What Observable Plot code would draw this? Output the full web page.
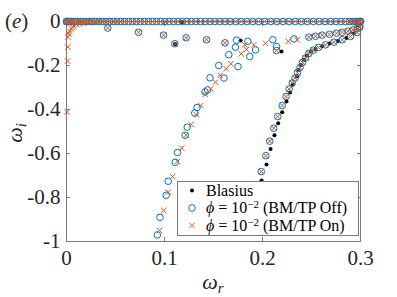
<!DOCTYPE html>
<html><head><meta charset="utf-8">
<script src="https://cdn.jsdelivr.net/npm/d3@7"></script>
<script src="https://cdn.jsdelivr.net/npm/@observablehq/plot@0.6"></script>
<style>html,body{margin:0;padding:0;background:#fff;}</style>
</head><body><div id="chart"></div>
<script>
// ---- data (omega_r, omega_i) ----
const xTicks = [0, 0.1, 0.2, 0.3];
const yTicks = [-1, -0.8, -0.6, -0.4, -0.2, 0];

// continuous spectrum on omega_i = 0 (both particle-laden cases)
const continuousWr = [0,0.0003,0.0008,0.0015,0.0026,0.0038,0.0053,0.0071,0.0092,0.0115,0.0141,0.0168,0.0198,0.0230,0.0262,0.0296,0.0331,0.0366,0.0403,0.0440,0.0478,0.0515,0.0554,0.0593,0.0633,0.0672,0.0712,0.0753,0.0794,0.0835,0.0877,0.0918,0.0961,0.1004,0.1048,0.1092,0.1137,0.1182,0.1228,0.1273,0.1320,0.1367,0.1415,0.1464,0.1514,0.1565,0.1617,0.1671,0.1727,0.1784,0.1842,0.1901,0.1961,0.2022,0.2085,0.2147,0.2209,0.2271,0.2334,0.2396,0.2457,0.2518,0.2579,0.2638,0.2695,0.2750,0.2801,0.2847,0.2887,0.2920,0.2948,0.2969,0.2985,0.2994,0.2999,0.3];

// branches shared by both particle-laden cases
const sharedLowerBranch = [[0.2990,-0.027],[0.2966,-0.050],[0.2898,-0.068],[0.2813,-0.083],[0.2728,-0.094],[0.2643,-0.106],[0.2571,-0.118],[0.2520,-0.130],[0.2474,-0.145],[0.2439,-0.166],[0.2408,-0.186],[0.2383,-0.209],[0.2357,-0.232],[0.2332,-0.257],[0.2303,-0.280],[0.2272,-0.307],[0.2240,-0.341],[0.2201,-0.382],[0.2156,-0.432],[0.2115,-0.485],[0.2074,-0.544],[0.2034,-0.610],[0.1987,-0.682],[0.1939,-0.759],[0.1888,-0.841]];
const sharedUpperBranch = [[0.2473,-0.071],[0.2541,-0.067],[0.2609,-0.062],[0.2684,-0.058],[0.2755,-0.053],[0.2813,-0.049],[0.2871,-0.044],[0.2925,-0.038],[0.2966,-0.032],[0.2993,-0.023]];
const sharedModes = [[0.0421,-0.030],[0.0735,-0.049],[0.0990,-0.062],[0.1105,-0.101],[0.1221,-0.074],[0.1429,-0.083],[0.1617,-0.097],[0.2143,-0.132]];

// BM/TP Off only
const offModes = [[0.1735,-0.085],[0.1850,-0.090],[0.1724,-0.117],[0.1656,-0.151],[0.1870,-0.159],[0.1750,-0.205],[0.1929,-0.129],[0.1607,-0.257],[0.1554,-0.200],[0.1464,-0.256],[0.2105,-0.083],[0.2143,-0.114],[0.2321,-0.079],[0.1413,-0.320],[0.1439,-0.311],[0.1332,-0.391],[0.1309,-0.416],[0.1232,-0.480],[0.1211,-0.517],[0.1133,-0.595],[0.1109,-0.640],[0.1038,-0.726],[0.1017,-0.790],[0.0954,-0.890],[0.0927,-0.970]];

// BM/TP On only
const onModes = [[0.1819,-0.106],[0.1911,-0.106],[0.1837,-0.127],[0.1783,-0.147],[0.1677,-0.192],[0.1630,-0.215],[0.1568,-0.245],[0.1520,-0.276],[0.1472,-0.306],[0.1415,-0.332],[0.1370,-0.382],[0.1323,-0.423],[0.1272,-0.468],[0.1221,-0.517],[0.1177,-0.576],[0.1133,-0.636],[0.1082,-0.705],[0.1038,-0.776],[0.0993,-0.859],[0.0949,-0.950],[0.2031,-0.099],[0.2262,-0.090],[0.2354,-0.083]];
const onWallModes = [[0.0007,-0.411],[0.0010,-0.180],[0.0013,-0.116],[0.0013,-0.071],[0.0023,-0.056],[0.0034,-0.045],[0.0048,-0.033],[0.0061,-0.026],[0.0074,-0.020],[0.0102,-0.014],[0.0136,-0.010],[0.0173,-0.007],[0.0224,-0.005],[0.0286,-0.004]];

// Blasius
const blasiusModes = [[0.1180,-0.002],[0.1107,-0.102],[0.1776,-0.086],[0.2194,-0.136],[0.2969,-0.016],[0.2929,-0.055],[0.2857,-0.075],[0.2770,-0.089],[0.2684,-0.100],[0.2609,-0.112],[0.2541,-0.125],[0.2495,-0.136],[0.2454,-0.155],[0.2423,-0.175],[0.2393,-0.198],[0.2367,-0.220],[0.2354,-0.249],[0.2309,-0.286],[0.2281,-0.323],[0.2245,-0.364],[0.2201,-0.412],[0.2160,-0.462],[0.2122,-0.517],[0.2082,-0.579],[0.2041,-0.650],[0.1990,-0.723],[0.1944,-0.800]];

const legendLabels = ["Blasius", "(BM/TP Off)", "(BM/TP On)"];
// ---------------------------------------------------------

const BLUE = "#0072BD", ORANGE = "#D95319", AX = "#7a7a7a", TXT = "#262626";
const SERIF = "'Liberation Serif', 'DejaVu Serif', serif";
const cont = continuousWr.map(w => [w, 0]);
const offPts = [...cont, ...sharedLowerBranch, ...sharedUpperBranch, ...sharedModes, ...offModes];
const onPts = [...cont, ...sharedLowerBranch, ...sharedUpperBranch, ...sharedModes, ...onModes, ...onWallModes];
const X = d => d[0], Y = d => d[1];
const fmt = d => String(d);

const chart = Plot.plot({
  width: 397, height: 297,
  marginLeft: 66, marginRight: 37, marginTop: 21, marginBottom: 56,
  x: {domain: [0, 0.3]},
  y: {domain: [-1, 0]},
  style: {fontFamily: SERIF, background: "white", color: TXT},
  marks: [
    Plot.frame({stroke: AX, strokeWidth: 1}),
    Plot.axisX({ticks: xTicks, tickSize: -4, tickPadding: 13, tickFormat: fmt, fontSize: 21, fontFamily: SERIF, label: null, stroke: AX, fill: TXT}),
    Plot.axisX({anchor: "top", ticks: xTicks, tickSize: -4, tickFormat: () => "", label: null, stroke: AX}),
    Plot.axisY({ticks: yTicks, tickSize: -4, tickPadding: 10, tickFormat: fmt, fontSize: 21, fontFamily: SERIF, label: null, stroke: AX, fill: TXT}),
    Plot.axisY({anchor: "right", ticks: yTicks, tickSize: -4, tickFormat: () => "", label: null, stroke: AX}),
    Plot.dot(blasiusModes, {x: X, y: Y, r: 2, fill: "black", stroke: "none"}),
    Plot.dot(offPts, {x: X, y: Y, r: 3.3, stroke: BLUE, strokeWidth: 1, fill: "none"}),
    Plot.dot(onPts, {x: X, y: Y, r: 2.6, symbol: "times", stroke: ORANGE, strokeWidth: 1})
  ]
});
document.getElementById("chart").appendChild(chart);

const svg = d3.select(chart);
// panel label
const pl = svg.append("text").attr("x", 5).attr("y", 28).attr("fill", TXT).attr("text-anchor", "start")
  .style("font-family", SERIF).style("font-size", "21px");
pl.append("tspan").text("(");
pl.append("tspan").style("font-style", "italic").text("e");
pl.append("tspan").text(")");
// x label
const xl = svg.append("text").attr("x", 213).attr("y", 289).attr("text-anchor", "middle").attr("fill", TXT)
  .style("font-family", SERIF).style("font-size", "22px").style("font-style", "italic");
xl.append("tspan").text("ω");
xl.append("tspan").attr("dy", 4).style("font-size", "15px").text("r");
// y label
const yl = svg.append("text").attr("transform", "translate(22,133) rotate(-90)").attr("text-anchor", "middle").attr("fill", TXT)
  .style("font-family", SERIF).style("font-size", "22px").style("font-style", "italic");
yl.append("tspan").text("ω");
yl.append("tspan").attr("dy", 4).style("font-size", "15px").text("i");

// legend
const lg = svg.append("g").style("font-family", SERIF).style("font-size", "16px").attr("fill", "black").attr("text-anchor", "start");
lg.append("rect").attr("x", 177.5).attr("y", 181.5).attr("width", 181).attr("height", 54)
  .attr("fill", "white").attr("stroke", AX);
const rows = [190.5, 208, 225.5];
const mx = 192;
lg.append("circle").attr("cx", mx).attr("cy", rows[0]).attr("r", 2).attr("fill", "black");
lg.append("circle").attr("cx", mx).attr("cy", rows[1]).attr("r", 3.3).attr("fill", "none").attr("stroke", BLUE);
lg.append("path").attr("transform", `translate(${mx},${rows[2]})`)
  .attr("d", d3.symbol(d3.symbolTimes, Math.PI * 2.6 * 2.6)()).attr("fill", "none").attr("stroke", ORANGE);
lg.append("text").attr("x", 206).attr("y", rows[0] + 5).text(legendLabels[0]);
for (let k = 1; k < 3; k++) {
  const t = lg.append("text").attr("x", 206).attr("y", rows[k] + 5);
  t.append("tspan").style("font-style", "italic").text("ϕ");
  t.append("tspan").text(" = 10");
  t.append("tspan").attr("dy", -5).style("font-size", "11px").text("−2");
  t.append("tspan").attr("dy", 5).text(" " + legendLabels[k]);
}
</script>
</body></html>
